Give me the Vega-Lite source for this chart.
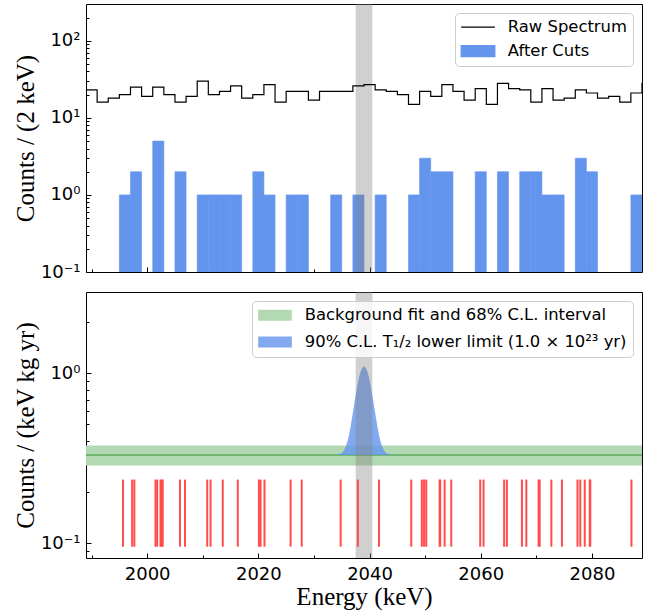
{
  "$schema": "https://vega.github.io/schema/vega-lite/v6.json",
  "autosize": {"type": "pad"},
  "padding": {"left": 12, "top": 3, "right": 5, "bottom": 5},
  "background": "white",
  "bounds": "flush",
  "spacing": 20,
  "datasets": {
    "raw": [
      {"E": 1989, "c": 23}, {"E": 1991, "c": 16}, {"E": 1993, "c": 18}, {"E": 1995, "c": 20}, {"E": 1997, "c": 25},
      {"E": 1999, "c": 19}, {"E": 2001, "c": 25}, {"E": 2003, "c": 20}, {"E": 2005, "c": 16}, {"E": 2007, "c": 19},
      {"E": 2009, "c": 30}, {"E": 2011, "c": 20}, {"E": 2013, "c": 22}, {"E": 2015, "c": 26}, {"E": 2017, "c": 18},
      {"E": 2019, "c": 20}, {"E": 2021, "c": 27}, {"E": 2023, "c": 16}, {"E": 2025, "c": 22}, {"E": 2027, "c": 22},
      {"E": 2029, "c": 17}, {"E": 2031, "c": 22}, {"E": 2033, "c": 22}, {"E": 2035, "c": 22}, {"E": 2037, "c": 26},
      {"E": 2039, "c": 27}, {"E": 2041, "c": 23}, {"E": 2043, "c": 22}, {"E": 2045, "c": 20}, {"E": 2047, "c": 15},
      {"E": 2049, "c": 22}, {"E": 2051, "c": 19}, {"E": 2053, "c": 27}, {"E": 2055, "c": 22}, {"E": 2057, "c": 17},
      {"E": 2059, "c": 24}, {"E": 2061, "c": 15}, {"E": 2063, "c": 28}, {"E": 2065, "c": 24}, {"E": 2067, "c": 23},
      {"E": 2069, "c": 16}, {"E": 2071, "c": 24}, {"E": 2073, "c": 17}, {"E": 2075, "c": 18}, {"E": 2077, "c": 23},
      {"E": 2079, "c": 21}, {"E": 2081, "c": 18}, {"E": 2083, "c": 19}, {"E": 2085, "c": 16}, {"E": 2087, "c": 21},
      {"E": 2089, "c": 28}, {"E": 2091, "c": 28}
    ],
    "cuts": [
      {"lo": 1995, "hi": 1997, "n": 1}, {"lo": 1997, "hi": 1999, "n": 2}, {"lo": 2001, "hi": 2003, "n": 5},
      {"lo": 2005, "hi": 2007, "n": 2}, {"lo": 2009, "hi": 2011, "n": 1}, {"lo": 2011, "hi": 2013, "n": 1},
      {"lo": 2013, "hi": 2015, "n": 1}, {"lo": 2015, "hi": 2017, "n": 1}, {"lo": 2019, "hi": 2021, "n": 2},
      {"lo": 2021, "hi": 2023, "n": 1}, {"lo": 2025, "hi": 2027, "n": 1}, {"lo": 2027, "hi": 2029, "n": 1},
      {"lo": 2033, "hi": 2035, "n": 1}, {"lo": 2037, "hi": 2039, "n": 1}, {"lo": 2041, "hi": 2043, "n": 1},
      {"lo": 2047, "hi": 2049, "n": 1}, {"lo": 2049, "hi": 2051, "n": 3}, {"lo": 2051, "hi": 2053, "n": 2},
      {"lo": 2053, "hi": 2055, "n": 2}, {"lo": 2059, "hi": 2061, "n": 2}, {"lo": 2063, "hi": 2065, "n": 2},
      {"lo": 2067, "hi": 2069, "n": 2}, {"lo": 2069, "hi": 2071, "n": 2}, {"lo": 2071, "hi": 2073, "n": 1},
      {"lo": 2073, "hi": 2075, "n": 1}, {"lo": 2077, "hi": 2079, "n": 3}, {"lo": 2079, "hi": 2081, "n": 2},
      {"lo": 2087, "hi": 2089, "n": 1}
    ],
    "roi": [{"qlo": 2037.5, "qhi": 2040.5}],
    "bkg": [{"lo": 0.2866, "hi": 0.3754, "fit": 0.3307}],
    "peak": [
      {"E": 2033.5, "hi": 0.3309, "lo": 0.3307}, {"E": 2034.0, "hi": 0.3315, "lo": 0.3307},
      {"E": 2034.5, "hi": 0.3336, "lo": 0.3307}, {"E": 2035.0, "hi": 0.3402, "lo": 0.3307},
      {"E": 2035.25, "hi": 0.3468, "lo": 0.3307}, {"E": 2035.5, "hi": 0.3572, "lo": 0.3307},
      {"E": 2035.75, "hi": 0.3727, "lo": 0.3307}, {"E": 2036.0, "hi": 0.3953, "lo": 0.3307},
      {"E": 2036.25, "hi": 0.4265, "lo": 0.3307}, {"E": 2036.5, "hi": 0.468, "lo": 0.3307},
      {"E": 2036.75, "hi": 0.521, "lo": 0.3307}, {"E": 2037.0, "hi": 0.5853, "lo": 0.3307},
      {"E": 2037.25, "hi": 0.66, "lo": 0.3307}, {"E": 2037.5, "hi": 0.7423, "lo": 0.3307},
      {"E": 2037.75, "hi": 0.8277, "lo": 0.3307}, {"E": 2038.0, "hi": 0.9107, "lo": 0.3307},
      {"E": 2038.25, "hi": 0.9846, "lo": 0.3307}, {"E": 2038.5, "hi": 1.0431, "lo": 0.3307},
      {"E": 2038.75, "hi": 1.0807, "lo": 0.3307}, {"E": 2039.0, "hi": 1.0937, "lo": 0.3307},
      {"E": 2039.25, "hi": 1.0807, "lo": 0.3307}, {"E": 2039.5, "hi": 1.0431, "lo": 0.3307},
      {"E": 2039.75, "hi": 0.9846, "lo": 0.3307}, {"E": 2040.0, "hi": 0.9107, "lo": 0.3307},
      {"E": 2040.25, "hi": 0.8277, "lo": 0.3307}, {"E": 2040.5, "hi": 0.7423, "lo": 0.3307},
      {"E": 2040.75, "hi": 0.66, "lo": 0.3307}, {"E": 2041.0, "hi": 0.5853, "lo": 0.3307},
      {"E": 2041.25, "hi": 0.521, "lo": 0.3307}, {"E": 2041.5, "hi": 0.468, "lo": 0.3307},
      {"E": 2041.75, "hi": 0.4265, "lo": 0.3307}, {"E": 2042.0, "hi": 0.3953, "lo": 0.3307},
      {"E": 2042.25, "hi": 0.3727, "lo": 0.3307}, {"E": 2042.5, "hi": 0.3572, "lo": 0.3307},
      {"E": 2042.75, "hi": 0.3468, "lo": 0.3307}, {"E": 2043.0, "hi": 0.3402, "lo": 0.3307},
      {"E": 2043.5, "hi": 0.3336, "lo": 0.3307}, {"E": 2044.0, "hi": 0.3315, "lo": 0.3307},
      {"E": 2044.5, "hi": 0.3309, "lo": 0.3307}
    ],
    "events": [
      {"E": 1995.65}, {"E": 1997.3}, {"E": 1997.7}, {"E": 2001.5}, {"E": 2001.8}, {"E": 2002.4}, {"E": 2002.6},
      {"E": 2002.8}, {"E": 2005.9}, {"E": 2006.8}, {"E": 2010.8}, {"E": 2011.4}, {"E": 2013.6}, {"E": 2016.3},
      {"E": 2020.1}, {"E": 2020.4}, {"E": 2021.1}, {"E": 2025.8}, {"E": 2027.8}, {"E": 2034.8}, {"E": 2037.9},
      {"E": 2041.7}, {"E": 2047.5}, {"E": 2049.4}, {"E": 2049.8}, {"E": 2050.2}, {"E": 2052.6}, {"E": 2052.7},
      {"E": 2053.5}, {"E": 2054.7}, {"E": 2059.9}, {"E": 2060.5}, {"E": 2064.2}, {"E": 2064.7}, {"E": 2067.4},
      {"E": 2068.2}, {"E": 2070.4}, {"E": 2070.6}, {"E": 2072.7}, {"E": 2074.6}, {"E": 2077.4}, {"E": 2077.9},
      {"E": 2078.7}, {"E": 2079.6}, {"E": 2079.7}, {"E": 2087.1}
    ]
  },
  "config": {
    "view": {"stroke": "black", "strokeWidth": 1},
    "axis": {
      "domain": false, "grid": false,
      "labelFont": "DejaVu Sans", "labelFontSize": 18, "labelColor": "black",
      "tickColor": "black", "tickWidth": 1,
      "titleFont": "Liberation Serif", "titleFontSize": 25, "titleFontWeight": "normal", "titleColor": "black"
    },
    "legend": {
      "labelFont": "DejaVu Sans", "labelFontSize": 16.4, "labelColor": "black", "labelLimit": 600,
      "strokeColor": "#cccccc", "fillColor": "rgba(255,255,255,0.8)", "cornerRadius": 4,
      "padding": 6, "orient": "top-right", "offset": 9,
      "symbolType": "M-3.06,-1H3.06V1H-3.06Z", "symbolSize": 121, "symbolStrokeWidth": 0,
      "symbolOffset": 8.8, "labelOffset": 21.6
    }
  },
  "resolve": {
    "scale": {"color": "independent", "x": "independent", "y": "independent"},
    "legend": {"color": "independent"}
  },
  "vconcat": [
    {
      "width": 556,
      "height": 268,
      "layer": [
        {
          "data": {"name": "cuts"},
          "mark": {"type": "rect", "clip": true, "color": "#6495ED", "stroke": "#6495ED", "strokeWidth": 0.6},
          "encoding": {
            "x": {
              "field": "lo", "type": "quantitative",
              "scale": {"domain": [1989, 2089], "nice": false, "zero": false},
              "axis": {
                "values": [1990, 1995, 2000, 2005, 2010, 2015, 2020, 2025, 2030, 2035, 2040, 2045, 2050, 2055, 2060, 2065, 2070, 2075, 2080, 2085],
                "labels": false, "title": null,
                "tickSize": {"condition": {"test": "datum.value % 20 == 0", "value": -5}, "value": -3}
              }
            },
            "x2": {"field": "hi"},
            "y": {
              "field": "n", "type": "quantitative",
              "scale": {"type": "log", "domain": [0.1, 300], "nice": false},
              "axis": {
                "values": [0.1, 0.2, 0.3, 0.4, 0.5, 0.6, 0.7, 0.8, 0.9, 1, 2, 3, 4, 5, 6, 7, 8, 9, 10, 20, 30, 40, 50, 60, 70, 80, 90, 100, 200],
                "labelExpr": "datum.value == 0.1 ? '10⁻¹' : datum.value == 1 ? '10⁰' : datum.value == 10 ? '10¹' : datum.value == 100 ? '10²' : ''",
                "labelBaseline": "middle", "labelPadding": 11,
                "tickSize": {"condition": {"test": "datum.value == 0.1 || datum.value == 1 || datum.value == 10 || datum.value == 100", "value": -5}, "value": -3},
                "title": "Counts / (2 keV)",
                "titleX": -53, "titleY": 134, "titleBaseline": "alphabetic", "titleAngle": 270
              }
            },
            "y2": {"datum": 0.1}
          }
        },
        {
          "data": {"name": "roi"},
          "mark": {"type": "rect", "color": "#808080", "opacity": 0.37},
          "encoding": {
            "x": {"field": "qlo", "type": "quantitative"},
            "x2": {"field": "qhi"}
          }
        },
        {
          "data": {"name": "raw"},
          "mark": {"type": "line", "interpolate": "step-after", "strokeWidth": 1.2, "clip": true, "color": "black"},
          "encoding": {
            "x": {"field": "E", "type": "quantitative"},
            "y": {"field": "c", "type": "quantitative"}
          }
        },
        {
          "data": {"values": []},
          "mark": {"type": "point", "opacity": 1, "strokeWidth": 1.2},
          "encoding": {
            "fill": {
              "datum": "Raw Spectrum", "type": "nominal",
              "scale": {"domain": ["Raw Spectrum", "After Cuts"], "range": ["black", "#6495ED"]},
              "legend": {"title": null, "rowPadding": 7, "symbolFillColor": "black", "symbolStrokeWidth": 1.2}
            },
            "stroke": {
              "datum": "Raw Spectrum", "type": "nominal",
              "scale": {"domain": ["Raw Spectrum", "After Cuts"], "range": ["black", "#6495ED"]},
              "legend": {"title": null, "rowPadding": 7, "symbolFillColor": "black", "symbolStrokeWidth": 1.2}
            },
            "shape": {
              "datum": "Raw Spectrum", "type": "nominal",
              "scale": {"domain": ["Raw Spectrum", "After Cuts"], "range": ["M-3.06,0H3.06", "M-3.06,-1H3.06V1H-3.06Z"]},
              "legend": {"title": null, "rowPadding": 7, "symbolFillColor": "black", "symbolStrokeWidth": 1.2}
            }
          }
        }
      ]
    },
    {
      "width": 556,
      "height": 266,
      "layer": [
        {
          "data": {"name": "bkg"},
          "mark": {"type": "rect"},
          "encoding": {
            "y": {
              "field": "lo", "type": "quantitative",
              "scale": {"type": "log", "domain": [0.082, 3], "nice": false},
              "axis": {
                "values": [0.09, 0.1, 0.2, 0.3, 0.4, 0.5, 0.6, 0.7, 0.8, 0.9, 1, 2],
                "labelExpr": "datum.value == 0.1 ? '10⁻¹' : datum.value == 1 ? '10⁰' : ''",
                "labelBaseline": "middle", "labelPadding": 11,
                "tickSize": {"condition": {"test": "datum.value == 0.1 || datum.value == 1", "value": -5}, "value": -3},
                "title": "Counts / (keV kg yr)",
                "titleX": -53, "titleY": 133, "titleBaseline": "alphabetic", "titleAngle": 270
              }
            },
            "y2": {"field": "hi"},
            "color": {
              "datum": "Background fit and 68% C.L. interval", "type": "nominal",
              "scale": {"domain": ["Background fit and 68% C.L. interval", "90% C.L. T₁/₂ lower limit (1.0 × 10²³ yr)"], "range": ["#b3d9b3", "#83aaf0"]},
              "legend": {"title": null, "rowPadding": 9.7}
            }
          }
        },
        {
          "data": {"name": "bkg"},
          "mark": {"type": "rule", "color": "green", "opacity": 0.5, "strokeWidth": 1.5},
          "encoding": {
            "y": {"field": "fit", "type": "quantitative"}
          }
        },
        {
          "data": {"name": "peak"},
          "mark": {"type": "area", "opacity": 0.8, "interpolate": "monotone", "color": "#6495ED"},
          "encoding": {
            "x": {
              "field": "E", "type": "quantitative",
              "scale": {"domain": [1989, 2089], "nice": false, "zero": false},
              "axis": {
                "values": [1990, 1995, 2000, 2005, 2010, 2015, 2020, 2025, 2030, 2035, 2040, 2045, 2050, 2055, 2060, 2065, 2070, 2075, 2080, 2085],
                "format": "d",
                "labelExpr": "datum.value % 20 == 0 ? datum.label : ''",
                "labelFlush": false, "labelOverlap": false,
                "labelBaseline": "top", "labelPadding": 12,
                "tickSize": {"condition": {"test": "datum.value % 20 == 0", "value": -5}, "value": -3},
                "title": "Energy (keV)",
                "titleBaseline": "alphabetic", "titleY": 46
              }
            },
            "y": {"field": "hi", "type": "quantitative"},
            "y2": {"field": "lo"}
          }
        },
        {
          "data": {"name": "roi"},
          "mark": {"type": "rect", "color": "#808080", "opacity": 0.37},
          "encoding": {
            "x": {"field": "qlo", "type": "quantitative"},
            "x2": {"field": "qhi"}
          }
        },
        {
          "data": {"name": "events"},
          "mark": {"type": "rule", "color": "#ff4d4d", "strokeWidth": 2},
          "encoding": {
            "x": {"field": "E", "type": "quantitative"},
            "y": {"datum": 0.0955},
            "y2": {"datum": 0.237}
          }
        }
      ]
    }
  ]
}
